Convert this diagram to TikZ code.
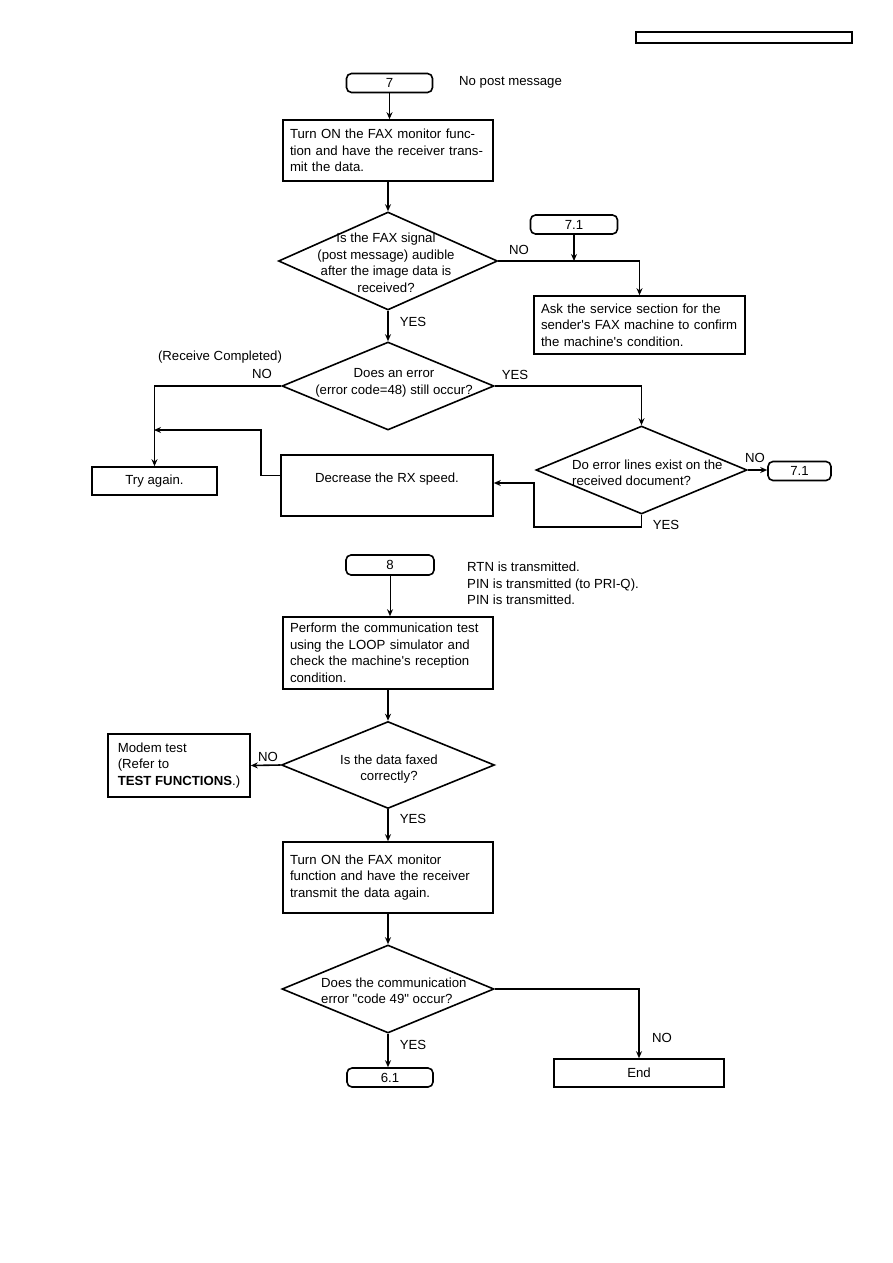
\documentclass[tikz,border=0pt]{standalone}
\usepackage{fontspec}
\setmainfont{Liberation Sans}[Ligatures=TeXOff]
\usetikzlibrary{shapes.geometric,arrows.meta,calc}
\begin{document}
\begin{tikzpicture}[x=1pt,y=-1pt,
  every node/.style={font=\fontsize{13.2}{16.5}\selectfont},
  box/.style={draw, line width=1.6pt, inner xsep=7pt, inner ysep=0pt, align=left},
  term/.style={draw, line width=1.6pt, rounded corners=5pt, inner sep=0pt, align=center},
  dia/.style={draw, line width=1.6pt, diamond, inner sep=0pt},
  arr/.style={line width=1.6pt, -{Stealth[length=7pt,width=6pt]}},
  thinarr/.style={line width=0.9pt, -{Stealth[length=7pt,width=6pt]}},
  lbl/.style={inner sep=0pt, align=left}]
\useasboundingbox (0,0) rectangle (893,1263);

% header box
\node[draw, line width=1.6pt, minimum width=216pt, minimum height=11pt, inner sep=0pt] (hdr) at (744,37.5) {};

% ---------- part 7 ----------
\node[term, minimum width=86pt, minimum height=19pt] (n7) at (389.5,83) {7};
\node[lbl, anchor=west] (nopost) at (459,82) {No post message};

\node[box, text width=196pt, minimum height=61pt] (b1) at (388,150.5)
  {Turn ON the FAX monitor func-\\tion and have the receiver trans-\\mit the data.};

\node[dia, minimum width=219pt, minimum height=98pt] (d1) at (388,261) {};
\node[lbl, align=center] (d1t) at (386,263) {Is the FAX signal\\(post message) audible\\after the image data is\\received?};

\node[term, minimum width=87pt, minimum height=19pt] (t71a) at (574,224.5) {7.1};
\node[box, text width=197pt, minimum height=58pt] (bask) at (639.5,325)
  {Ask the service section for the\\sender's FAX machine to confirm\\the machine's condition.};
\node[lbl] (no1) at (519,250) {NO};
\node[lbl] (yes1) at (413,322) {YES};

\node[dia, minimum width=212pt, minimum height=88pt] (d2) at (388,386) {};
\node[lbl, align=center] (d2t) at (394,383) {Does an error\\(error code=48) still occur?};
\node[lbl] (rc) at (220,357) {(Receive Completed)};
\node[lbl] (no2) at (262,374) {NO};
\node[lbl] (yes2) at (515,375) {YES};

\node[box, minimum width=125pt, minimum height=28pt, inner xsep=0pt] (try) at (154.5,481) {Try again.};
\node[box, minimum width=212pt, minimum height=61pt] (dec) at (387,485.5) {};
\node[lbl] (dect) at ([yshift=6.5pt]dec.center) {Decrease the RX speed.};

\node[dia, minimum width=211pt, minimum height=88pt] (d3) at (641.5,470) {};
\node[lbl, anchor=west] (d3t) at (572,473) {Do error lines exist on the\\received document?};
\node[term, minimum width=63pt, minimum height=19pt] (t71b) at (799.5,471) {7.1};
\node[lbl] (no3) at (755,458) {NO};
\node[lbl] (yes3) at (666,525) {YES};

\coordinate (m1) at (154,430);
\coordinate (c3) at (534,527);

\draw[arr] (n7.south) -- (n7.south |- b1.north);
\draw[arr] (b1.south) -- (d1.north);
\draw[arr] (d1.east) -| (bask.north);
\draw[arr] (t71a.south) -- (t71a.south |- d1.east);
\draw[arr] (d1.south) -- (d2.north);
\draw[arr] (d2.west) -| (try.north);
\draw[arr] ([yshift=10pt]dec.west) -| (261,430) -- (m1);
\draw[arr] (d2.east) -| (d3.north);
\draw[arr] (d3.east) -- (d3.east -| t71b.west);
\draw[arr] (d3.south) |- (c3) |- ([yshift=2.5pt]dec.east);

% ---------- part 8 ----------
\node[term, minimum width=88pt, minimum height=20pt] (n8) at (390,565) {8};
\node[lbl, anchor=west] (rtn) at (467,583.5) {RTN is transmitted.\\PIN is transmitted (to PRI-Q).\\PIN is transmitted.};

\node[box, text width=196pt, minimum height=72pt] (p1) at (388,653)
  {Perform the communication test\\using the LOOP simulator and\\check the machine's reception\\condition.};

\node[dia, minimum width=213pt, minimum height=87pt] (d4) at (388,765) {};
\node[lbl, align=center] (d4t) at (389,769) {Is the data faxed\\correctly?};
\node[box, minimum width=142pt, minimum height=63pt, inner xsep=0pt] (modem) at (179,765.5)
  {Modem test\\(Refer to\\\textbf{TEST FUNCTIONS}.)};
\node[lbl] (no4) at (268,757) {NO};
\node[lbl] (yes4) at (413,819) {YES};

\node[box, text width=196pt, minimum height=71pt] (t2) at (388,877.5)
  {Turn ON the FAX monitor\\function and have the receiver\\transmit the data again.};

\node[dia, minimum width=212pt, minimum height=88pt] (d5) at (388,989) {};
\node[lbl, anchor=west] (d5t) at (321,991) {Does the communication\\error "code 49" occur?};
\node[term, minimum width=86pt, minimum height=19pt] (n61) at (390,1077.5) {6.1};
\node[box, minimum width=170pt, minimum height=28pt, inner xsep=0pt] (endb) at (639,1073) {End};
\node[lbl] (yes5) at (413,1045) {YES};
\node[lbl] (no5) at (662,1038) {NO};

\draw[thinarr] (n8.south) -- (n8.south |- p1.north);
\draw[arr] (p1.south) -- (d4.north);
\draw[arr] (d4.west) -- (modem.east);
\draw[arr] (d4.south) -- (t2.north);
\draw[arr] (t2.south) -- (d5.north);
\draw[arr] (d5.south) -- (d5.south |- n61.north);
\draw[arr] (d5.east) -| (endb.north);
\end{tikzpicture}
\end{document}
